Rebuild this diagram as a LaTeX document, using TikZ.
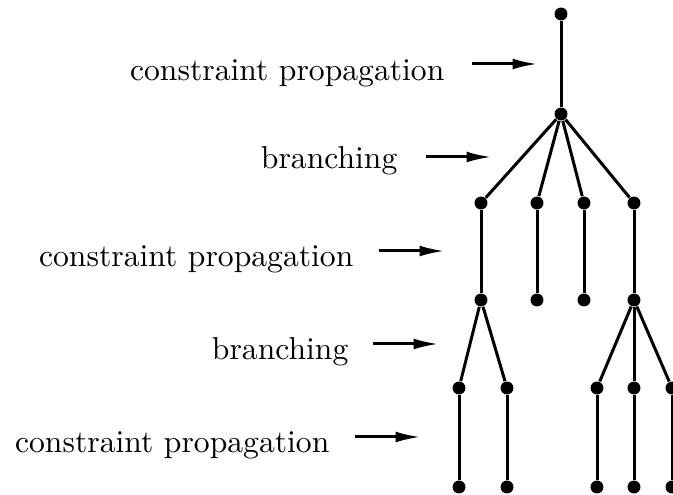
\documentclass[tikz,border=0pt]{standalone}
\usepackage{amsmath}
\usepackage{xcolor}
\usetikzlibrary{arrows.meta}
\tikzset{
	dot/.style={circle, fill=black, draw=none, inner sep=0pt, minimum size=4.1pt},
	edge/.style={line width=0.95pt},
	lbl/.style={anchor=base east, inner sep=0pt},
	pointer/.style={line width=0.95pt, -{Latex[length=8pt,width=3.4pt]}}
}

\begin{document}
\begin{tikzpicture}[x=0.316pt, y=-0.316pt]
			\useasboundingbox (0,0) rectangle (673,495);

			% Define the search tree
			\node[dot] (r) at (561,14) {};
			\node[dot] (b) at (561,114) {};
			\node[dot] (c1) at (481,203) {};
			\node[dot] (c2) at (537,203) {};
			\node[dot] (c3) at (584,203) {};
			\node[dot] (c4) at (634,203) {};
			\node[dot] (d1) at (481,300) {};
			\node[dot] (d2) at (537,300) {};
			\node[dot] (d3) at (584,300) {};
			\node[dot] (d4) at (634,300) {};
			\node[dot] (e1) at (459,388) {};
			\node[dot] (e2) at (507,388) {};
			\node[dot] (e3) at (597,388) {};
			\node[dot] (e4) at (634,388) {};
			\node[dot] (e5) at (672,388) {};
			\node[dot] (f1) at (459,487) {};
			\node[dot] (f2) at (507,487) {};
			\node[dot] (f3) at (597,487) {};
			\node[dot] (f4) at (634,487) {};
			\node[dot] (f5) at (672,487) {};

			% Draw the edges
			\draw[edge] (r) -- (b);
			\foreach \c in {c1,c2,c3,c4}
				\draw[edge] (b) -- (\c);
			\foreach \i in {1,2,3,4}
				\draw[edge] (c\i) -- (d\i);
			\draw[edge] (d1) -- (e1);
			\draw[edge] (d1) -- (e2);
			\draw[edge] (d4) -- (e3);
			\draw[edge] (d4) -- (e4);
			\draw[edge] (d4) -- (e5);
			\foreach \i in {1,...,5}
				\draw[edge] (e\i) -- (f\i);

			% Label the steps
			\node[lbl] (l1) at (445,80.5) {constraint propagation};
			\node[lbl] (l2) at (398,168.5) {branching};
			\node[lbl] (l3) at (354,267) {constraint propagation};
			\node[lbl] (l4) at (349,360) {branching};
			\node[lbl] (l5) at (330,453) {constraint propagation};

			\coordinate (a1) at (472,64);  \coordinate (z1) at (538,64);
			\coordinate (a2) at (426,157); \coordinate (z2) at (492,157);
			\coordinate (a3) at (379,251); \coordinate (z3) at (445,251);
			\coordinate (a4) at (373,344); \coordinate (z4) at (439,344);
			\coordinate (a5) at (355,437); \coordinate (z5) at (421,437);
			\foreach \i in {1,...,5}
				\draw[pointer] (a\i) -- (z\i);
		\end{tikzpicture}
\end{document}
